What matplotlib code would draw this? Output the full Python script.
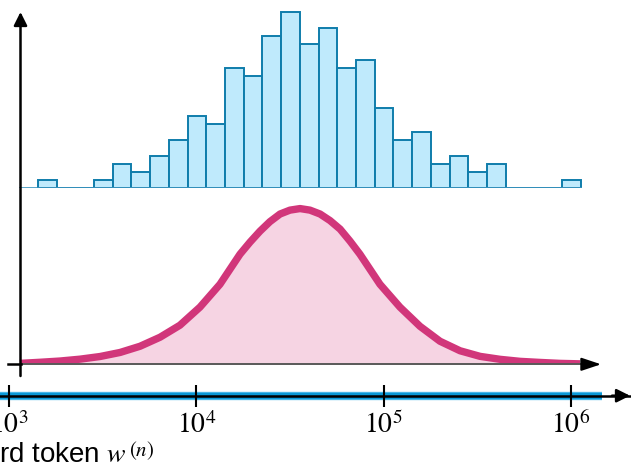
import matplotlib.pyplot as plt
import numpy as np

plt.rcParams['mathtext.fontset'] = 'stix'

# histogram of word counts, 0.1-decade bins starting at 10^3.153
bin_start = 3.153
bin_width = 0.1
counts = [1, 0, 0, 1, 3, 2, 4, 6, 9, 8, 15, 14, 19, 22, 18, 20, 15, 16, 10, 6,
          7, 3, 4, 2, 3, 0, 0, 0, 1]

# smooth density: log10(x), height in % of peak
curve_logx = [3.057, 3.164, 3.271, 3.378, 3.485, 3.592, 3.699, 3.806, 3.912,
              4.019, 4.126, 4.233, 4.287, 4.340, 4.393, 4.447, 4.500, 4.554,
              4.607, 4.661, 4.714, 4.768, 4.821, 4.874, 4.981, 5.088, 5.195,
              5.302, 5.409, 5.516, 5.623, 5.730, 5.837, 5.943, 6.050]
curve_y = [0.6, 1.3, 2.1, 3.3, 5.0, 7.6, 11.6, 17.4, 25.1, 36.7, 51.4, 70.7,
           78.5, 85.5, 91.6, 96.5, 99.0, 100.0, 99.0, 96.5, 92.3, 86.8, 79.1,
           70.7, 51.4, 36.7, 24.4, 14.8, 8.7, 5.1, 3.2, 1.9, 1.2, 0.6, 0.3]

tick_values = [1e3, 1e4, 1e5, 1e6]
tick_labels = [r'$10^3$', r'$10^4$', r'$10^5$', r'$10^6$']
xlabel = r'rd token $w$'
xlabel_sup = r'$(n)$'

W, H = 631, 475
px0, decade = 9.3, 187.1   # pixel of 10^3, pixels per decade


def lx(px):
    return 10 ** (3 + (px - px0) / decade)


def fy(py):
    return 1 - py / H


xlim = (lx(0), lx(W))
fig = plt.figure(figsize=(W / 100, H / 100), dpi=100)

# histogram
ax_hist = fig.add_axes([0, fy(187.7), 1, 184 / H])
ax_hist.set_xscale('log')
idx = np.arange(len(counts))
lefts = 10 ** (bin_start + bin_width * idx)
rights = 10 ** (bin_start + bin_width * (idx + 1))
ax_hist.plot([lx(20), rights[-1]], [0, 0], color='#3a93bd', lw=1.2)
ax_hist.bar(lefts, counts, width=rights - lefts, align='edge',
            facecolor='#bfeafc', edgecolor='#0f7dab', linewidth=1.4)
ax_hist.set_xlim(xlim)
ax_hist.set_ylim(0, 23)
ax_hist.axis('off')

# density curve
ax_curve = fig.add_axes([0, fy(364.3), 1, 171.3 / H])
ax_curve.set_xscale('log')
cx = 10 ** np.array(curve_logx)
ax_curve.fill_between(cx, 0, curve_y, color='#f6d4e3', lw=0)
ax_curve.plot(cx, curve_y, color='#d1367a', lw=5.3, solid_capstyle='butt',
              solid_joinstyle='round')
ax_curve.set_xlim(xlim)
ax_curve.set_ylim(0, 110)
ax_curve.axis('off')

# log x axis at the bottom
ax_x = fig.add_axes([0, fy(395.7) - 0.05, 1, 0.1])
ax_x.set_xscale('log')
ax_x.set_xlim(xlim)
ax_x.set_ylim(-1, 1)
ax_x.patch.set_alpha(0)
for s in ['top', 'left', 'right']:
    ax_x.spines[s].set_visible(False)
ax_x.spines['bottom'].set_position(('data', 0))
ax_x.spines['bottom'].set_linewidth(1.8)
ax_x.plot([xlim[0], lx(601.7)], [0, 0], color='#4db8e8', lw=6.0,
          solid_capstyle='butt', zorder=1)
ax_x.plot([xlim[0], lx(601.7)], [0, 0], color='#0a98d6', lw=4.4,
          solid_capstyle='butt', zorder=1)
ax_x.set_xticks(tick_values, tick_labels)
ax_x.minorticks_off()
ax_x.set_yticks([])
ax_x.tick_params(axis='x', direction='inout', length=16, width=1.5, pad=3,
                 labelsize=20)

# arrows and frame lines, in pixel coordinates
ax_d = fig.add_axes([0, 0, 1, 1])
ax_d.set_xlim(0, W)
ax_d.set_ylim(H, 0)
ax_d.axis('off')
head = '-|>,head_length=0.8,head_width=0.4'
ax_d.annotate('', xy=(20.5, 12), xytext=(20.5, 376),
              arrowprops=dict(arrowstyle=head, color='black', lw=1.8,
                              shrinkA=0, shrinkB=0))
ax_d.plot([20.5, 584], [364.3, 364.3], color='#595959', lw=1.4)
ax_d.plot([8, 20.5], [364.3, 364.3], color='black', lw=1.8)
ax_d.annotate('', xy=(601, 364.3), xytext=(582, 364.3),
              arrowprops=dict(arrowstyle='-|>,head_length=1.2,head_width=0.4',
                              color='black', lw=1.4, shrinkA=0, shrinkB=0))
ax_d.annotate('', xy=(630, 395.7), xytext=(612, 395.7),
              arrowprops=dict(arrowstyle=head, color='black', lw=1.8,
                              shrinkA=0, shrinkB=0))

# axis title, cut at the left edge like the reference
t1 = fig.text(-1 / W, fy(462), xlabel, fontsize=20, family='Liberation Sans',
              va='baseline', ha='left')
fig.canvas.draw()
bb = t1.get_window_extent()
fig.text(bb.x1 / W + 2 / W, fy(456), xlabel_sup, fontsize=15,
         va='baseline', ha='left')

fig.savefig('out.png', dpi=100)
